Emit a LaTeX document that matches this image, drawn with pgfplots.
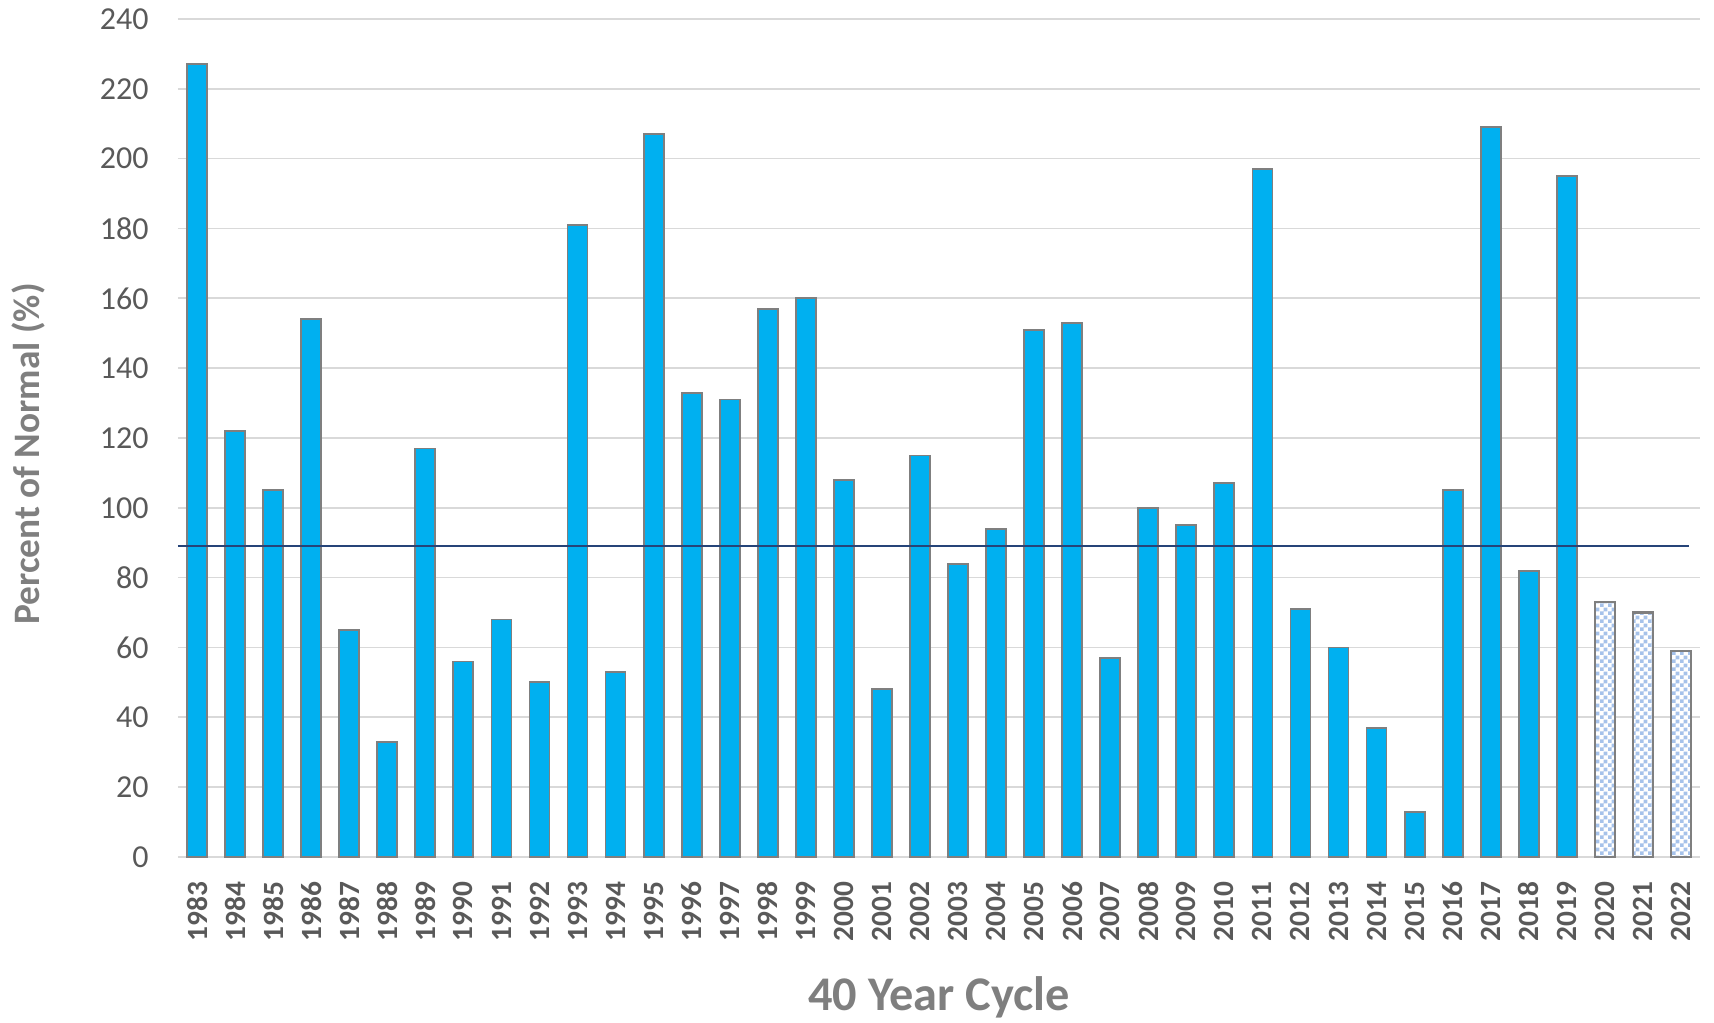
\documentclass[border=0pt]{standalone}
\usepackage{fontspec}
\setmainfont{Carlito}
\usepackage{pgfplots}
\pgfplotsset{compat=1.18}
\usepackage{pgfplotstable}
\usetikzlibrary{patterns}
\definecolor{barblue}{HTML}{00B0F0}
\definecolor{baredge}{HTML}{7F7F7F}
\definecolor{gridgray}{HTML}{D9D9D9}
\definecolor{ticktext}{HTML}{595959}
\definecolor{labeltext}{HTML}{7F7F7F}
\definecolor{avgline}{HTML}{264478}
\definecolor{checkblue}{HTML}{A6C2EA}
\pgfdeclarepatternformonly{smallchecker}{\pgfpointorigin}{\pgfqpoint{2.4pt}{2.4pt}}{\pgfqpoint{2.4pt}{2.4pt}}{%
  \pgfpathrectangle{\pgfpointorigin}{\pgfqpoint{1.25pt}{1.25pt}}%
  \pgfpathrectangle{\pgfqpoint{1.2pt}{1.2pt}}{\pgfqpoint{1.25pt}{1.25pt}}%
  \pgfusepath{fill}}
\pgfplotstableread{
x y
0 227
1 122
2 105
3 154
4 65
5 33
6 117
7 56
8 68
9 50
10 181
11 53
12 207
13 133
14 131
15 157
16 160
17 108
18 48
19 115
20 84
21 94
22 151
23 153
24 57
25 100
26 95
27 107
28 197
29 71
30 60
31 37
32 13
33 105
34 209
35 82
36 195
}\actual
\pgfplotstableread{
x y
37 73
38 70
39 59
}\forecast
\begin{document}
\begin{tikzpicture}
\path[use as bounding box] (-53.4pt,-49.8pt) rectangle (460.8pt,257.1pt);
\begin{axis}[
  scale only axis,
  width=456.6pt, height=251.4pt,
  anchor=south west, at={(0,0)},
  ybar, bar width=6pt,
  xmin=-0.5, xmax=39.5,
  ymin=0, ymax=240,
  ytick={0,20,...,240},
  xtick={0,...,39},
  xticklabels={1983,1984,1985,1986,1987,1988,1989,1990,1991,1992,1993,1994,1995,1996,1997,1998,1999,2000,2001,2002,2003,2004,2005,2006,2007,2008,2009,2010,2011,2012,2013,2014,2015,2016,2017,2018,2019,2020,2021,2022},
  axis x line*=bottom, axis y line*=left,
  x axis line style={gridgray, line width=0.6pt, -},
  y axis line style={draw=none},
  major tick length=0pt,
  ymajorgrids, grid style={gridgray, line width=0.5pt},
  /pgf/number format/assume math mode=true,
  yticklabel style={font=\fontsize{9.6}{11}\selectfont, text=ticktext, xshift=-5.3pt},
  xticklabel style={font=\fontsize{8.8}{11}\selectfont\bfseries, text=ticktext, rotate=90, anchor=east, xshift=-4pt},
  ylabel={Percent of Normal (\%)},
  ylabel style={font=\fontsize{11.2}{13}\selectfont\bfseries, text=labeltext, at={(axis description cs:-0.0985,0.481)}, anchor=center},
  xlabel={40 Year Cycle},
  xlabel style={font=\fontsize{14.5}{16}\selectfont\bfseries, text=labeltext, at={(axis description cs:0.5,-0.167)}, anchor=center},
  clip=false,
]
\addplot[bar shift=0pt, fill=barblue, draw=baredge, line width=0.55pt] table[x=x,y=y] {\actual};
\addplot[bar shift=0pt, fill=white, draw=baredge, line width=0.65pt, postaction={pattern=smallchecker, pattern color=checkblue}] table[x=x,y=y] {\forecast};
\addplot[sharp plot, no markers, avgline, line width=0.7pt, bar shift=0pt] coordinates {(-0.5,89) (39.2,89)};
\end{axis}
\end{tikzpicture}
\end{document}
